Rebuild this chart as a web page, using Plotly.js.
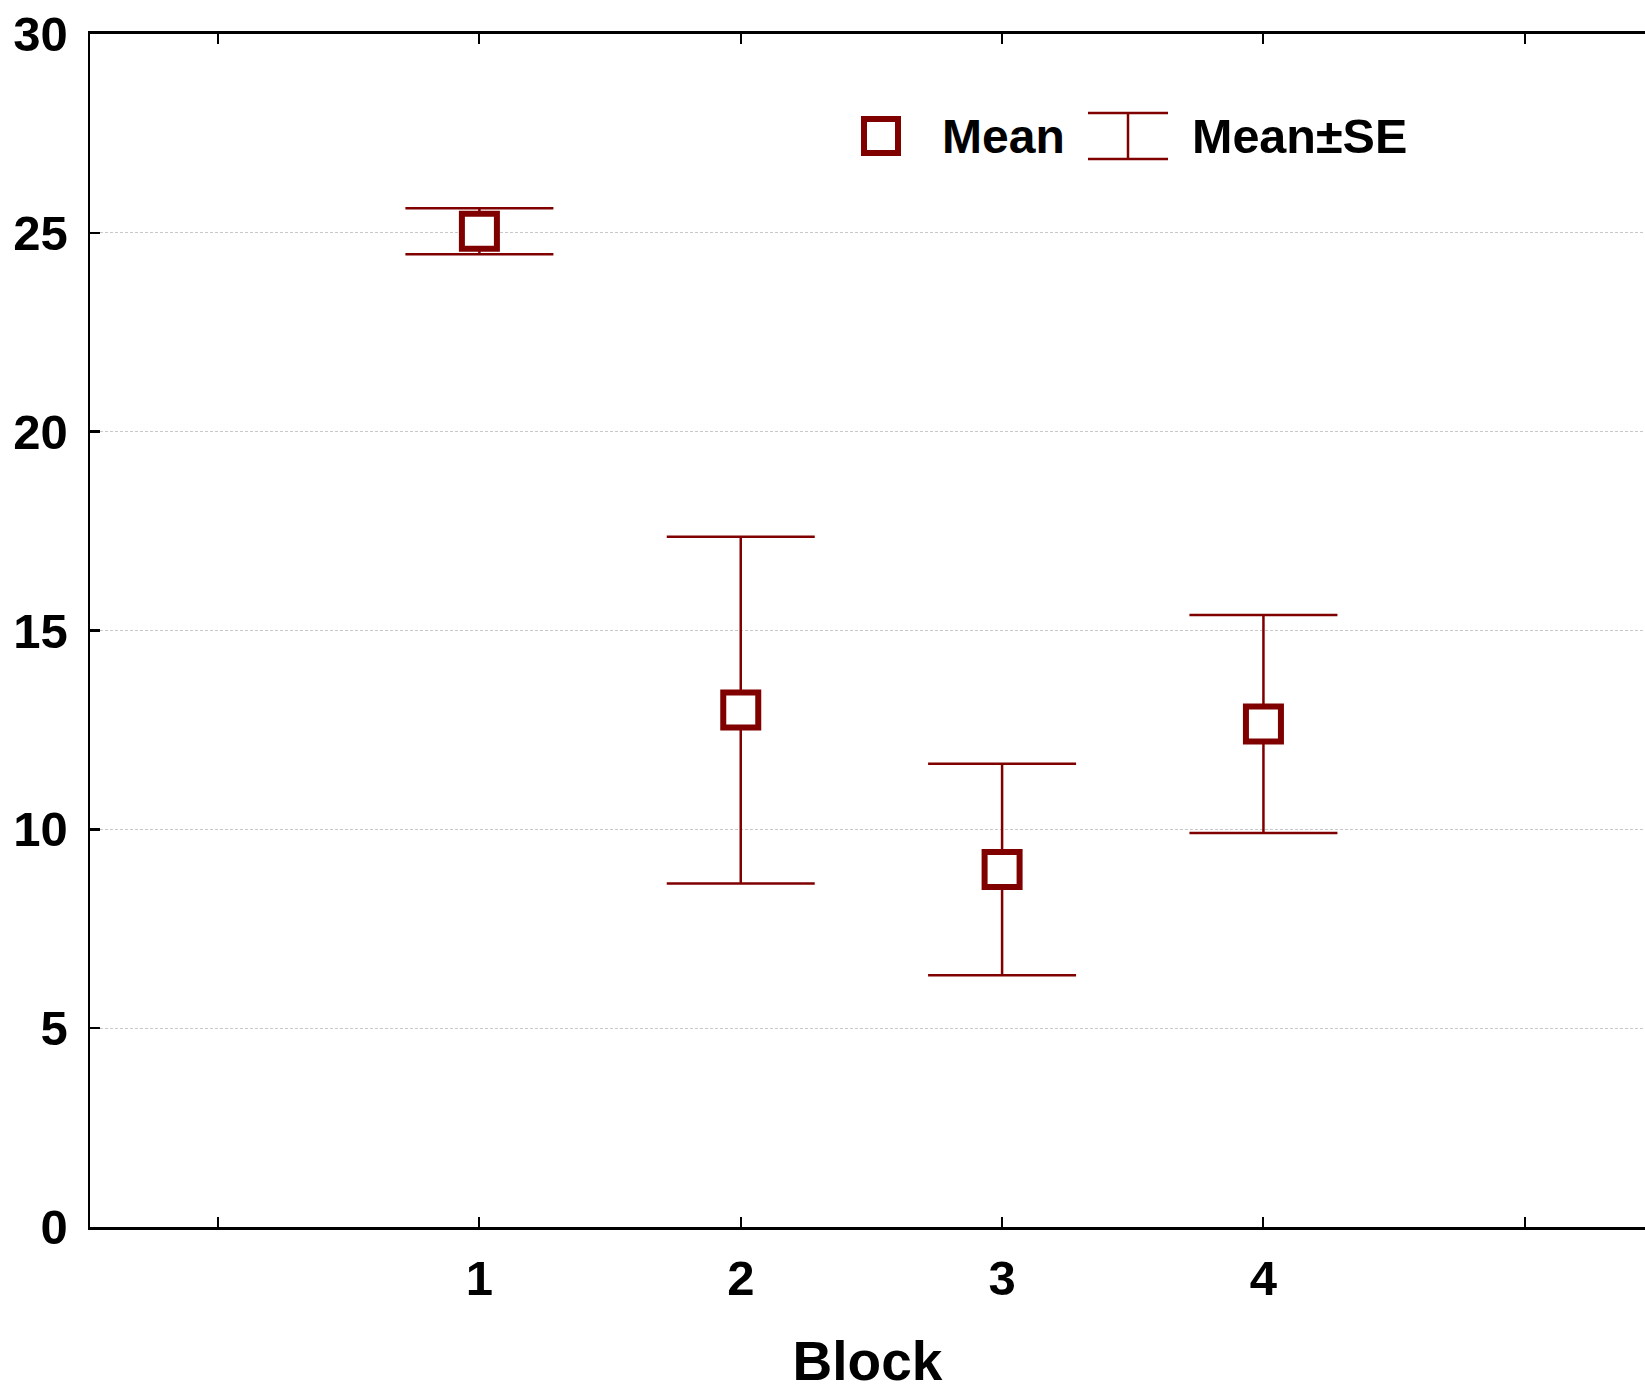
<!DOCTYPE html>
<html>
<head>
<meta charset="utf-8">
<script src="https://cdn.plot.ly/plotly-3.0.1.min.js"></script>
<style>html,body{margin:0;padding:0;background:#fff;}#chart{width:1645px;height:1392px;}</style>
</head>
<body>
<div id="chart"></div>
<script>
// Data
const blocks = [1, 2, 3, 4];
const means = [25.04, 13.0, 8.99, 12.65];
const se = [0.58, 4.36, 2.66, 2.74];
const xTickVals = [0, 1, 2, 3, 4, 5];
const xTickText = ['', '1', '2', '3', '4', ''];
const yTickVals = [0, 5, 10, 15, 20, 25, 30];
const legendLabels = ['Mean', 'Mean\u00b1SE'];

const RED = '#800000';
const FONT = 'Liberation Sans, Arial, Helvetica, sans-serif';

// plot area geometry (pixels)
const W = 1645, H = 1392;
const L = 90, T = 34, B = 165, R = 0;
const pw = W - L - R, ph = H - T - B;
const px = x => (x - L) / pw;
const py = y => (H - B - y) / ph;

const traces = [
  {
    x: blocks, y: means, type: 'scatter', mode: 'markers',
    marker: {size: 1, opacity: 0},
    error_y: {type: 'data', array: se, visible: true, color: RED, thickness: 2.5, width: 74},
    showlegend: false, hoverinfo: 'skip'
  },
  {
    x: blocks, y: means, type: 'scatter', mode: 'markers', name: legendLabels[0],
    marker: {symbol: 'square', size: 35, color: '#ffffff', line: {color: RED, width: 6}},
    showlegend: false
  }
];

// custom legend (decoration)
const lsx = 881, lsy = 136, ex = 1128, eTop = 113, eBot = 159, ew = 40;
const shapes = [
  {type: 'rect', xref: 'paper', yref: 'paper', xsizemode: 'pixel', ysizemode: 'pixel',
   xanchor: px(lsx), yanchor: py(lsy), x0: -17, x1: 17, y0: -17, y1: 17,
   line: {color: RED, width: 6}, fillcolor: '#ffffff'},
  {type: 'line', xref: 'paper', yref: 'paper', x0: px(ex), x1: px(ex), y0: py(eTop), y1: py(eBot),
   line: {color: RED, width: 2.5}},
  {type: 'line', xref: 'paper', yref: 'paper', x0: px(ex - ew), x1: px(ex + ew), y0: py(eTop), y1: py(eTop),
   line: {color: RED, width: 2.5}},
  {type: 'line', xref: 'paper', yref: 'paper', x0: px(ex - ew), x1: px(ex + ew), y0: py(eBot), y1: py(eBot),
   line: {color: RED, width: 2.5}}
];
const annotations = [
  {text: legendLabels[0], xref: 'paper', yref: 'paper', x: px(940), y: py(136), xanchor: 'left', yanchor: 'middle',
   showarrow: false, font: {family: FONT, size: 48, color: '#000', weight: 'bold'}},
  {text: legendLabels[1], xref: 'paper', yref: 'paper', x: px(1190), y: py(136), xanchor: 'left', yanchor: 'middle',
   showarrow: false, font: {family: FONT, size: 48.5, color: '#000', weight: 'bold'}}
];

const layout = {
  width: W, height: H,
  margin: {l: L, r: R, t: T, b: B, pad: 0},
  paper_bgcolor: '#ffffff', plot_bgcolor: '#ffffff',
  font: {family: FONT, size: 48, color: '#000', weight: 'bold'},
  showlegend: false,
  xaxis: {
    range: [-0.49, 5.46], tickmode: 'array', tickvals: xTickVals, ticktext: xTickText,
    ticks: 'inside', ticklen: 10, tickwidth: 2, tickcolor: '#000',
    showline: true, linewidth: 3, linecolor: '#000', mirror: 'ticks',
    showgrid: false, zeroline: false, ticklabelstandoff: 6,
    tickfont: {family: FONT, size: 49, color: '#000', weight: 'bold'},
    title: {text: 'Block', standoff: 58, font: {family: FONT, size: 55, color: '#000', weight: 'bold'}}
  },
  yaxis: {
    range: [0, 30], tickmode: 'array', tickvals: yTickVals,
    ticks: 'inside', ticklen: 10, tickwidth: 2.5, tickcolor: '#000',
    showline: true, linewidth: 2.5, linecolor: '#000',
    showgrid: true, gridcolor: '#c8c8c8', gridwidth: 1, griddash: '3px,2px',
    zeroline: false, ticklabelstandoff: 10,
    tickfont: {family: FONT, size: 49, color: '#000', weight: 'bold'}
  },
  shapes: shapes,
  annotations: annotations
};

Plotly.newPlot('chart', traces, layout, {displayModeBar: false, staticPlot: true});
</script>
</body>
</html>
